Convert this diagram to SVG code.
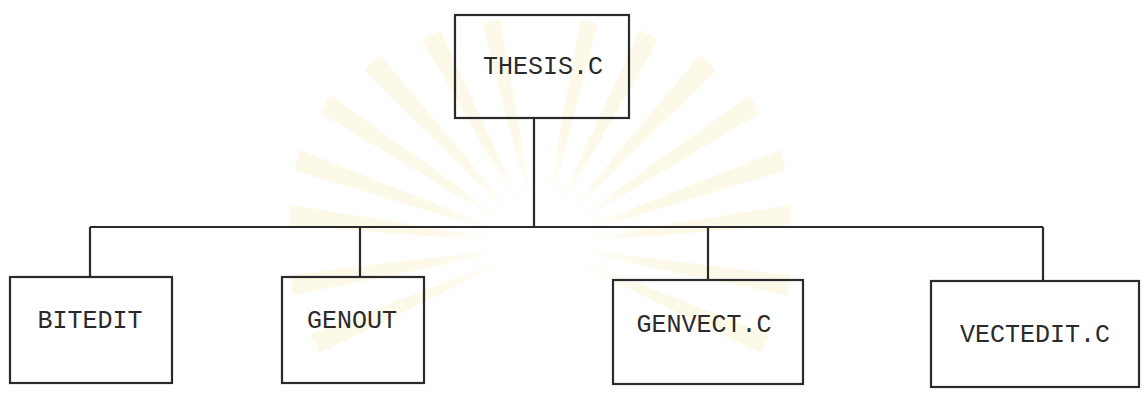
<svg xmlns="http://www.w3.org/2000/svg" width="1147" height="399" viewBox="0 0 1147 399">
<defs>
<style>
.box{fill:none;stroke:#2a2a2a;stroke-width:2.2}
.conn{fill:none;stroke:#2a2a2a;stroke-width:2.2}
.lbl{font-family:"Liberation Mono","DejaVu Sans Mono",monospace;font-size:25px;fill:#2a2a2a;text-anchor:middle}
.ray{fill:#fcf3d2;opacity:0.5}
</style>
<radialGradient id="glow" cx="0.5" cy="0.5" r="0.5">
<stop offset="0" stop-color="#ffffff"/>
<stop offset="0.4" stop-color="#ffffff"/>
<stop offset="1" stop-color="#ffffff" stop-opacity="0"/>
</radialGradient>
</defs>
<rect width="1147" height="399" fill="#ffffff"/>
<g id="watermark">
<g transform="translate(540,245)">
<path class="ray" d="M0 0 L-250 -40 L-250 -20 Z"/>
<path class="ray" d="M0 0 L-240 -95 L-246 -75 Z"/>
<path class="ray" d="M0 0 L-210 -150 L-220 -132 Z"/>
<path class="ray" d="M0 0 L-160 -190 L-176 -175 Z"/>
<path class="ray" d="M0 0 L-100 -215 L-118 -205 Z"/>
<path class="ray" d="M0 0 L-40 -225 L-58 -222 Z"/>
<path class="ray" d="M0 0 L40 -225 L58 -222 Z"/>
<path class="ray" d="M0 0 L100 -215 L118 -205 Z"/>
<path class="ray" d="M0 0 L160 -190 L176 -175 Z"/>
<path class="ray" d="M0 0 L210 -150 L220 -132 Z"/>
<path class="ray" d="M0 0 L240 -95 L246 -75 Z"/>
<path class="ray" d="M0 0 L250 -40 L250 -20 Z"/>
<path class="ray" d="M0 0 L-250 30 L-247 50 Z"/>
<path class="ray" d="M0 0 L-230 90 L-220 108 Z"/>
<path class="ray" d="M0 0 L250 30 L247 50 Z"/>
<path class="ray" d="M0 0 L230 90 L220 108 Z"/>
<circle cx="0" cy="0" r="110" fill="url(#glow)"/>
</g>
</g>
<g id="connectors">
<path class="conn" d="M534 118 V227"/>
<path class="conn" d="M90 227 H1043"/>
<path class="conn" d="M90 227 V277"/>
<path class="conn" d="M360 227 V277"/>
<path class="conn" d="M708 227 V280"/>
<path class="conn" d="M1043 227 V281"/>
</g>
<g id="thesis">
<rect class="box" x="455" y="15" width="174" height="103"/>
<text class="lbl" x="543" y="74">THESIS.C</text>
</g>
<g id="bitedit">
<rect class="box" x="10" y="277" width="162" height="106"/>
<text class="lbl" x="90" y="328">BITEDIT</text>
</g>
<g id="genout">
<rect class="box" x="282" y="277" width="142" height="106"/>
<text class="lbl" x="352" y="328">GENOUT</text>
</g>
<g id="genvect">
<rect class="box" x="613" y="280" width="190" height="104"/>
<text class="lbl" x="704" y="332">GENVECT.C</text>
</g>
<g id="vectedit">
<rect class="box" x="931" y="281" width="208" height="106"/>
<text class="lbl" x="1035" y="342">VECTEDIT.C</text>
</g>
</svg>
